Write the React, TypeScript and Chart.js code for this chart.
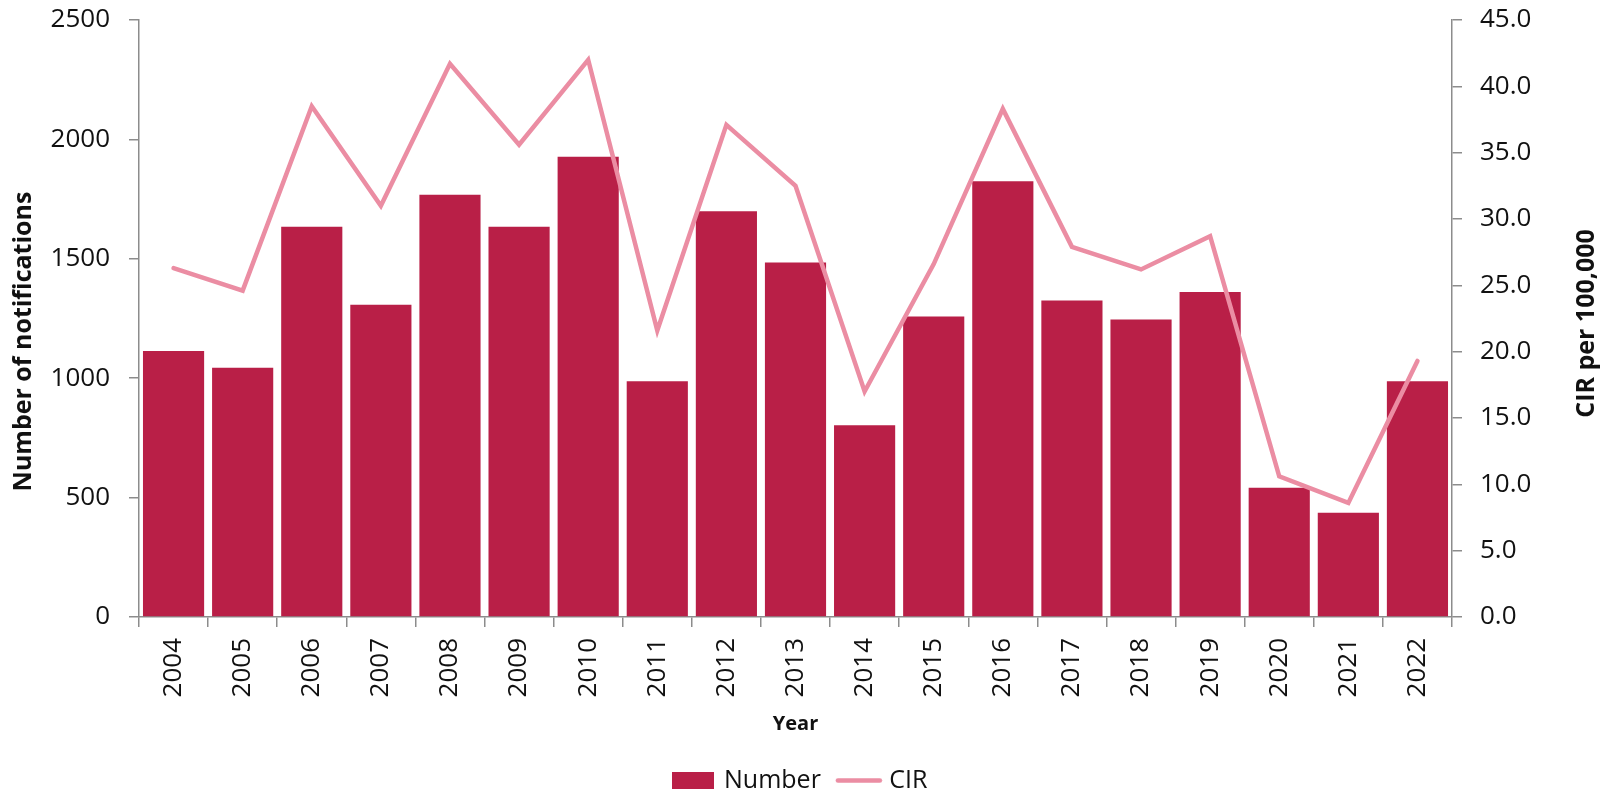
import React, { useEffect, useRef } from "react";
import { Chart, registerables } from "chart.js";

Chart.register(...registerables);

const years = [
  "2004", "2005", "2006", "2007", "2008", "2009", "2010", "2011", "2012", "2013",
  "2014", "2015", "2016", "2017", "2018", "2019", "2020", "2021", "2022",
];
const notifications = [
  1114, 1044, 1634, 1308, 1768, 1634, 1927, 987, 1699, 1484,
  803, 1258, 1825, 1325, 1246, 1361, 541, 437, 987,
];
const cirValues = [
  26.3, 24.6, 38.5, 31.0, 41.7, 35.6, 42.0, 21.6, 37.1, 32.5,
  17.0, 26.6, 38.3, 27.9, 26.2, 28.7, 10.6, 8.6, 19.3,
];
const leftAxis = { min: 0, max: 2500, step: 500 };
const rightAxis = { min: 0, max: 45, step: 5 };
const seriesLabels = ["Number", "CIR"];
const leftTitle = "Number of notifications";
const rightTitle = "CIR per 100,000";
const xTitle = "Year";

const BAR_COLOR = "#B91F47";
const LINE_COLOR = "#EB8DA3";
const AXIS_COLOR = "#8C8C8C";
const TEXT_COLOR = "#111111";
const FONT = "'Open Sans', sans-serif";

function makeBarIcon() {
  const c = document.createElement("canvas");
  c.width = 42;
  c.height = 17;
  const g = c.getContext("2d")!;
  g.fillStyle = BAR_COLOR;
  g.fillRect(0, 0, 42, 17);
  return c;
}

function makeLineIcon() {
  const c = document.createElement("canvas");
  c.width = 48;
  c.height = 7;
  const g = c.getContext("2d")!;
  g.strokeStyle = LINE_COLOR;
  g.lineWidth = 4.5;
  g.lineCap = "round";
  g.beginPath();
  g.moveTo(3, 3.5);
  g.lineTo(45, 3.5);
  g.stroke();
  return c;
}

const axisTitlePlugin = {
  id: "axisTitles",
  afterDraw(chart: any) {
    const { ctx, chartArea } = chart;
    const midY = (chartArea.top + chartArea.bottom) / 2;
    ctx.save();
    ctx.fillStyle = TEXT_COLOR;
    ctx.textAlign = "center";
    ctx.textBaseline = "middle";
    ctx.font = `bold 25px ${FONT}`;
    ctx.save();
    ctx.translate(24, midY + 23);
    ctx.rotate(-Math.PI / 2);
    ctx.fillText(leftTitle, 0, 0);
    ctx.restore();
    ctx.save();
    ctx.translate(1587, midY + 5);
    ctx.rotate(-Math.PI / 2);
    ctx.fillText(rightTitle, 0, 0);
    ctx.restore();
    ctx.font = `bold 20px ${FONT}`;
    ctx.fillText(xTitle, (chartArea.left + chartArea.right) / 2, 724);
    ctx.restore();
  },
};

export default function App() {
  const canvasRef = useRef<HTMLCanvasElement | null>(null);

  useEffect(() => {
    document.body.style.margin = "0";
    const canvas = canvasRef.current;
    if (!canvas) return;
    const barIcon = makeBarIcon();
    const lineIcon = makeLineIcon();
    const tickFont = { family: FONT, size: 26 };

    const chart = new Chart(canvas, {
      type: "bar",
      data: {
        labels: years,
        datasets: [
          {
            type: "bar",
            label: seriesLabels[0],
            data: notifications,
            backgroundColor: BAR_COLOR,
            yAxisID: "y",
            order: 1,
            barPercentage: 0.885,
            categoryPercentage: 1,
          } as any,
          {
            type: "line",
            label: seriesLabels[1],
            data: cirValues,
            borderColor: LINE_COLOR,
            backgroundColor: LINE_COLOR,
            borderWidth: 4.5,
            pointRadius: 0,
            tension: 0,
            borderCapStyle: "round",
            yAxisID: "y1",
            order: 0,
          } as any,
        ],
      },
      options: {
        animation: false,
        responsive: false,
        devicePixelRatio: 1,
        layout: { padding: { top: 20, left: 0, right: 0, bottom: -11 } },
        plugins: {
          tooltip: { enabled: false },
          legend: {
            position: "bottom",
            labels: {
              usePointStyle: true,
              pointStyleWidth: 36,
              padding: 20,
              color: TEXT_COLOR,
              font: { family: FONT, size: 25 },
              sort: (a: any, b: any) => a.datasetIndex - b.datasetIndex,
              generateLabels: (ch: any) => {
                const items = Chart.defaults.plugins.legend.labels.generateLabels(ch);
                items.forEach((it: any) => {
                  it.pointStyle = it.datasetIndex === 0 ? barIcon : lineIcon;
                });
                return items;
              },
            },
          },
        },
        scales: {
          x: {
            offset: true,
            grid: {
              offset: true,
              drawOnChartArea: false,
              drawTicks: true,
              tickLength: 10,
              color: AXIS_COLOR,
              lineWidth: 1.5,
            },
            border: { color: AXIS_COLOR, width: 1.5 },
            ticks: {
              minRotation: 90,
              maxRotation: 90,
              autoSkip: false,
              padding: 11,
              color: TEXT_COLOR,
              font: tickFont,
            },
            afterFit: (s: any) => {
              s.height = 131;
            },
          },
          y: {
            position: "left",
            min: leftAxis.min,
            max: leftAxis.max,
            ticks: {
              stepSize: leftAxis.step,
              padding: 19,
              color: TEXT_COLOR,
              font: tickFont,
              callback: (v: any) => String(v),
            },
            grid: { drawOnChartArea: false, tickLength: 10, color: AXIS_COLOR, lineWidth: 1.5 },
            border: { color: AXIS_COLOR, width: 1.5 },
            afterFit: (s: any) => {
              s.width = 139;
              s.paddingTop = 0;
              s.paddingBottom = 0;
            },
          },
          y1: {
            position: "right",
            min: rightAxis.min,
            max: rightAxis.max,
            ticks: {
              stepSize: rightAxis.step,
              padding: 18,
              color: TEXT_COLOR,
              font: tickFont,
              callback: (v: any) => Number(v).toFixed(1),
            },
            grid: { drawOnChartArea: false, tickLength: 10, color: AXIS_COLOR, lineWidth: 1.5 },
            border: { color: AXIS_COLOR, width: 1.5 },
            afterFit: (s: any) => {
              s.width = 151;
              s.paddingTop = 0;
              s.paddingBottom = 0;
            },
          },
        },
      },
      plugins: [axisTitlePlugin],
    });

    return () => chart.destroy();
  }, []);

  return (
    <div style={{ width: 1603, height: 792, background: "#fff" }}>
      <canvas ref={canvasRef} width={1603} height={792} style={{ display: "block" }} />
    </div>
  );
}
